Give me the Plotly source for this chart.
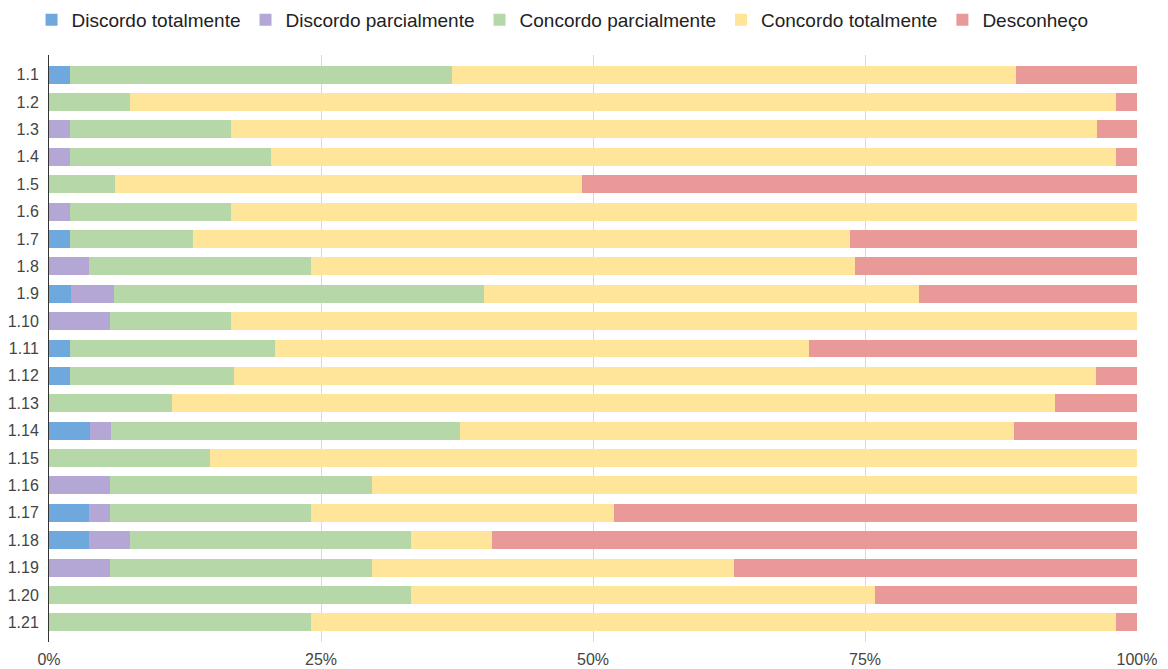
import plotly.graph_objects as go

# questions (top to bottom)
questions = ["1.%d" % i for i in range(1, 22)]

# share of answers per question, in %
discordo_total = [1.9, 0, 0, 0, 0, 0, 1.9, 0, 2.0, 0, 1.9, 1.9, 0, 3.8, 0, 0, 3.7, 3.7, 0, 0, 0]
discordo_parcial = [0, 0, 1.9, 1.9, 0, 1.9, 0, 3.7, 4.0, 5.6, 0, 0, 0, 1.9, 0, 5.6, 1.9, 3.7, 5.6, 0, 0]
concordo_parcial = [35.2, 7.4, 14.8, 18.5, 6.1, 14.8, 11.3, 20.4, 34.0, 11.1, 18.9, 15.1, 11.3, 32.1, 14.8, 24.1, 18.5, 25.9, 24.1, 33.3, 24.1]
concordo_total = [51.9, 90.7, 79.6, 77.8, 42.9, 83.3, 60.4, 50.0, 40.0, 83.3, 49.1, 79.2, 81.1, 50.9, 85.2, 70.4, 27.8, 7.4, 33.3, 42.6, 74.1]
desconheco = [11.1, 1.9, 3.7, 1.9, 51.0, 0, 26.4, 25.9, 20.0, 0, 30.2, 3.8, 7.5, 11.3, 0, 0, 48.1, 59.3, 37.0, 24.1, 1.9]

# x axis ticks
x_ticks = [0, 25, 50, 75, 100]
x_tick_labels = ["0%", "25%", "50%", "75%", "100%"]

series = [
    ("Discordo totalmente", discordo_total, "#6fa8dc"),
    ("Discordo parcialmente", discordo_parcial, "#b4a7d6"),
    ("Concordo parcialmente", concordo_parcial, "#b6d7a8"),
    ("Concordo totalmente", concordo_total, "#ffe599"),
    ("Desconheço", desconheco, "#ea9999"),
]

fig = go.Figure()
for name, vals, color in series:
    fig.add_trace(go.Bar(
        y=questions,
        x=vals,
        name=name,
        orientation="h",
        marker=dict(color=color, line_width=0),
    ))

fig.update_layout(
    barmode="stack",
    barnorm="percent",
    bargap=0.343,
    width=1168,
    height=669,
    paper_bgcolor="white",
    plot_bgcolor="white",
    font=dict(family="Liberation Sans, Arial, sans-serif", size=16, color="#222222"),
    margin=dict(l=49, r=31, t=55, b=27, autoexpand=False),
    legend=dict(
        orientation="h",
        traceorder="normal",
        x=0.027, xref="container", xanchor="left",
        y=1.06, yref="paper", yanchor="middle",
        font=dict(size=19, color="#222222"),
    ),
    xaxis=dict(
        range=[0, 100],
        tickvals=x_ticks,
        ticktext=x_tick_labels,
        showgrid=True,
        gridcolor="#d9d9d9",
        zeroline=False,
        ticks="outside",
        ticklen=3,
        tickcolor="rgba(0,0,0,0)",
        automargin=False,
        tickfont=dict(size=16, color="#444444"),
    ),
    yaxis=dict(
        autorange=False,
        range=[20.72, -0.72],
        showline=True,
        linecolor="#333333",
        linewidth=1,
        showgrid=False,
        ticks="outside",
        ticklen=6,
        tickcolor="rgba(0,0,0,0)",
        automargin=False,
        tickfont=dict(size=16, color="#444444"),
    ),
)

# drop the default page margin so the figure sits at the window's corner
fig.write_html(
    "out.html",
    config={"displayModeBar": False},
    post_script="document.body.style.margin='0';",
)
